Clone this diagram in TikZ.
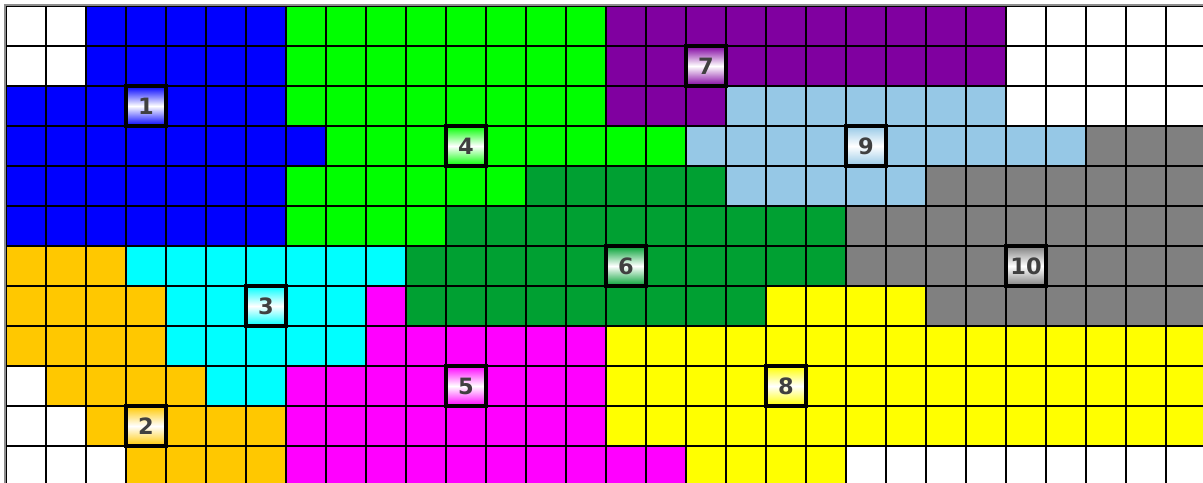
\documentclass[tikz,border=0pt]{standalone}
\usepackage{fontspec}
\setsansfont{DejaVu Sans}
\usepackage{xcolor}
\usetikzlibrary{positioning}

\definecolor{regblue}{RGB}{0,0,255}
\definecolor{reggreen}{RGB}{0,255,0}
\definecolor{regpurple}{RGB}{128,0,160}
\definecolor{regsky}{RGB}{150,200,230}
\definecolor{reggray}{RGB}{128,128,128}
\definecolor{regdark}{RGB}{0,160,50}
\definecolor{regorange}{RGB}{255,200,0}
\definecolor{regcyan}{RGB}{0,255,255}
\definecolor{regmagenta}{RGB}{255,0,255}
\definecolor{regyellow}{RGB}{255,255,0}
\definecolor{digitgray}{RGB}{64,64,64}

\begin{document}
\begin{tikzpicture}[
    gridline/.style={line width=1.4pt, black},
    regbox/.style={draw=black, line width=2.8pt, minimum size=1cm, inner sep=0pt,
        top color=#1, bottom color=#1, middle color=white, text=digitgray,
        font=\sffamily\bfseries\fontsize{16}{16}\selectfont}
]
    \useasboundingbox (-0.15,0.15) rectangle (29.925,-11.925);
    \clip (-0.15,0.15) rectangle (29.925,-11.925);

    % セル (行/始/終/色)
    \foreach \r/\a/\b/\col in {
        0/2/6/regblue, 0/7/14/reggreen, 0/15/24/regpurple,
        1/2/6/regblue, 1/7/14/reggreen, 1/15/24/regpurple,
        2/0/6/regblue, 2/7/14/reggreen, 2/15/17/regpurple, 2/18/24/regsky,
        3/0/7/regblue, 3/8/16/reggreen, 3/17/26/regsky, 3/27/29/reggray,
        4/0/6/regblue, 4/7/12/reggreen, 4/13/17/regdark, 4/18/22/regsky, 4/23/29/reggray,
        5/0/6/regblue, 5/7/10/reggreen, 5/11/20/regdark, 5/21/29/reggray,
        6/0/2/regorange, 6/3/9/regcyan, 6/10/20/regdark, 6/21/29/reggray,
        7/0/3/regorange, 7/4/8/regcyan, 7/9/9/regmagenta, 7/10/18/regdark, 7/19/22/regyellow, 7/23/29/reggray,
        8/0/3/regorange, 8/4/8/regcyan, 8/9/14/regmagenta, 8/15/29/regyellow,
        9/1/4/regorange, 9/5/6/regcyan, 9/7/14/regmagenta, 9/15/29/regyellow,
        10/2/6/regorange, 10/7/14/regmagenta, 10/15/29/regyellow,
        11/3/6/regorange, 11/7/16/regmagenta, 11/17/20/regyellow}
        \fill[\col] (\a,-\r) rectangle (\b+1,-\r-1);

    % 格子
    \draw[gridline] (0,-12) grid (30,0);
    \draw[line width=1.5pt, black!45] (-0.02,-12) -- (-0.02,0.02) -- (30,0.02);

    % 領域番号
    \node[regbox=regblue] (r1) at (3.5,-2.5) {1};
    \node[regbox=regorange] (r2) at (3.5,-10.5) {2};
    \node[regbox=regcyan] (r3) at (6.5,-7.5) {3};
    \node[regbox=reggreen] (r4) at (11.5,-3.5) {4};
    \node[regbox=regmagenta] (r5) at (11.5,-9.5) {5};
    \node[regbox=regdark] (r6) at (15.5,-6.5) {6};
    \node[regbox=regpurple] (r7) at (17.5,-1.5) {7};
    \node[regbox=regyellow] (r8) at (19.5,-9.5) {8};
    \node[regbox=regsky] (r9) at (21.5,-3.5) {9};
    \node[regbox=reggray] (r10) at (25.5,-6.5) {10};
\end{tikzpicture}
\end{document}
